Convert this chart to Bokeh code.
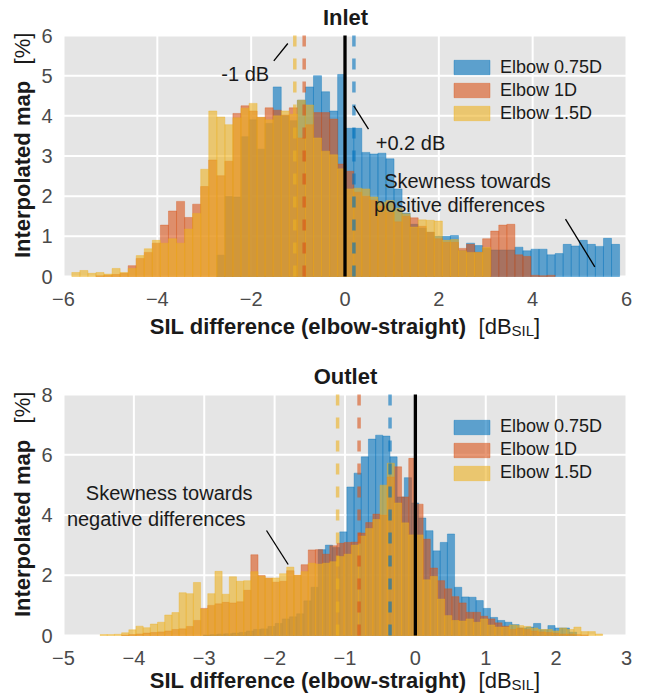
import numpy as np
from math import pi
from bokeh.plotting import figure
from bokeh.layouts import column
from bokeh.models import (Label, Legend, LegendItem, FixedTicker, Range1d,
                          ColumnDataSource, LinearAxis)
from bokeh.embed import file_html
from bokeh.resources import INLINE

series_names = ["Elbow 0.75D", "Elbow 1D", "Elbow 1.5D"]
colors = ["#0072BD", "#D95319", "#EDB120"]

# ---------------- Inlet (common bins) ----------------
inlet_bin_start = -5.823
inlet_bin_width = 0.1717
inlet_blue = [0, 0, 0, 0, 0, 0, 0, 0, 0, 0,
              0, 0, 0, 0, 0, 0, 0, 0, 0.53, 1.99,
              1.98, 3.48, 3.90, 3.17, 3.81, 4.72, 4.00, 3.88, 4.39, 4.72,
              5.00, 4.60, 4.12, 5.03, 3.69, 3.69, 3.09, 3.05, 3.07, 2.93,
              2.18, 1.58, 1.30, 1.20, 1.10, 1.00, 1.00, 1.02, 0.64, 0.83,
              0.77, 0.70, 0.66, 0.66, 0.66, 0.73, 0.64, 0.68, 0.68, 0.54,
              0.57, 0.80, 0.76, 0.90, 0.80, 0.75, 0.95, 0.80]
inlet_orange = [0, 0, 0, 0.02, 0.03, 0.05, 0.08, 0.27, 0.45, 0.60,
                0.83, 1.28, 1.63, 1.87, 1.47, 1.80, 2.24, 2.90, 2.51, 2.87,
                4.06, 4.25, 4.12, 3.96, 4.20, 4.14, 4.02, 4.20, 3.45, 3.78,
                4.08, 4.08, 3.92, 2.80, 2.62, 2.10, 2.00, 1.90, 1.75, 1.60,
                1.36, 1.50, 1.46, 1.25, 1.10, 0.94, 0.85, 0.85, 0.70, 0.80,
                0.60, 0.94, 1.13, 1.28, 1.30, 0.54, 0.50, 0.03, 0.02, 0.03,
                0, 0, 0, 0, 0, 0, 0, 0]
inlet_yellow = [0.10, 0.15, 0.08, 0.10, 0.06, 0.20, 0.10, 0.20, 0.52, 0.69,
                0.90, 0.83, 0.94, 0.83, 1.18, 1.57, 2.67, 4.12, 3.97, 3.78,
                3.95, 4.19, 4.31, 3.96, 3.90, 4.00, 4.12, 4.04, 4.39, 4.27,
                3.45, 3.12, 3.03, 2.68, 2.18, 2.20, 2.18, 1.98, 1.85, 1.89,
                1.70, 1.56, 1.23, 1.41, 1.40, 1.38, 0.90, 0.92, 0.64, 0.60,
                0.60, 0.72, 0, 0, 0, 0, 0, 0, 0, 0,
                0, 0, 0, 0, 0, 0, 0, 0]
inlet_means = [0.19, -0.87, -1.07]

# ---------------- Outlet (own bins per series) ----------------
outlet_bin_width = 0.102
outlet_starts = [-3.013, -4.48, -4.48]
outlet_blue = [0.02, 0.03, 0.05, 0.06, 0.08, 0.10, 0.15, 0.20, 0.22, 0.30,
               0.40, 0.55, 0.62, 0.72, 1.15, 1.60, 2.85, 3.00, 2.92, 3.44,
               4.93, 5.39, 5.93, 6.52, 6.65, 6.62, 5.93, 4.60, 5.24, 4.40,
               3.90, 3.48, 2.81, 3.09, 3.37, 1.60, 1.28, 1.27, 1.16, 0.90,
               0.60, 0.50, 0.44, 0.36, 0.25, 0.28, 0.40, 0.19, 0.33, 0.25,
               0.25, 0.11]
outlet_orange = [0, 0, 0, 0.02, 0.03, 0.05, 0.08, 0.10, 0.12, 0.15,
                 0.20, 0.22, 0.30, 0.50, 0.90, 1.00, 1.05, 1.10, 1.08, 1.12,
                 1.50, 2.68, 1.99, 1.90, 1.77, 1.80, 2.15, 2.00, 2.35, 2.84,
                 2.85, 2.70, 2.98, 3.06, 3.09, 3.10, 3.40, 3.75, 4.03, 4.00,
                 5.26, 5.60, 4.60, 5.88, 4.36, 3.20, 2.24, 1.82, 1.55, 1.29,
                 1.08, 0.77, 0.77, 0.64, 0.55, 0.42, 0.31, 0.20, 0.25, 0.20,
                 0.15, 0.12, 0.10, 0.08, 0.05, 0.05, 0.03, 0.02, 0, 0]
outlet_yellow = [0.03, 0.03, 0.04, 0.09, 0.19, 0.31, 0.26, 0.38, 0.44, 0.68,
                 0.76, 1.42, 1.39, 1.76, 0.88, 1.39, 2.13, 1.37, 1.95, 1.80,
                 1.82, 2.12, 1.97, 1.90, 1.91, 2.05, 2.27, 2.00, 2.12, 2.40,
                 2.37, 2.40, 2.45, 2.62, 2.70, 3.00, 3.30, 3.55, 3.85, 4.99,
                 5.72, 4.40, 3.74, 3.34, 3.34, 1.85, 1.96, 1.21, 0.66, 0.50,
                 0.48, 0.55, 0.44, 0.55, 0.35, 0.28, 0.28, 0.35, 0.33, 0.30,
                 0.25, 0.20, 0.20, 0.15, 0.25, 0.20, 0.28, 0.13, 0.13, 0.05]
outlet_means = [-0.36, -0.80, -1.105]

inlet_xticks = [-6, -4, -2, 0, 2, 4, 6]
inlet_yticks = [0, 1, 2, 3, 4, 5, 6]
outlet_xticks = [-5, -4, -3, -2, -1, 0, 1, 2, 3]
outlet_yticks = [0, 2, 4, 6, 8]

FONT = "Liberation Sans"
W = 645
FL, FR = 63, 626  # plot-area left/right in canvas pixels


def make_panel(title, xr, yr, xticks, yticks, starts, width, series, means,
               height, ftop, fbot, legend_top, xlab_off, notes, pointer):
    ppx = (FR - FL) / (xr[1] - xr[0])
    ppy = (fbot - ftop) / (yr[1] - yr[0])
    xs = xr[0] - FL / ppx
    xe = xr[1] + (W - FR) / ppx
    ys = yr[0] - (height - fbot) / ppy
    ye = yr[1] + ftop / ppy

    p = figure(width=W, height=height, x_range=Range1d(xs, xe), y_range=Range1d(ys, ye),
               output_backend="svg", toolbar_location=None,
               x_axis_location=None, y_axis_location=None,
               min_border_left=0, min_border_right=0, min_border_top=0, min_border_bottom=0)
    p.background_fill_color = "white"
    p.border_fill_color = "white"
    p.outline_line_color = None
    p.grid.visible = False

    def to_data(px, py):
        return xr[0] + (px - FL) / ppx, yr[0] + (fbot - py) / ppy

    # plot area and grid
    p.quad(left=[xr[0]], right=[xr[1]], bottom=[yr[0]], top=[yr[1]],
           fill_color="#e5e5e5", line_color=None)
    p.segment(x0=xticks, y0=[yr[0]] * len(xticks), x1=xticks, y1=[yr[1]] * len(xticks),
              line_color="white", line_width=2)
    p.segment(x0=[xr[0]] * len(yticks), y0=yticks, x1=[xr[1]] * len(yticks), y1=yticks,
              line_color="white", line_width=2)

    xa = LinearAxis(fixed_location=yr[0], ticker=FixedTicker(ticks=xticks))
    ya = LinearAxis(fixed_location=xr[0], ticker=FixedTicker(ticks=yticks))
    for ax in (xa, ya):
        ax.axis_line_color = None
        ax.major_tick_line_color = None
        ax.minor_tick_line_color = None
        ax.major_label_text_font = FONT
        ax.major_label_text_font_size = "20px"
        ax.major_label_text_color = "#4a4a4a"
    xa.major_label_standoff = 9
    ya.major_label_standoff = 5
    p.add_layout(xa, "below")
    p.add_layout(ya, "left")

    items = []
    for name, col, start, vals in zip(series_names, colors, starts, series):
        vals = np.asarray(vals, dtype=float)
        left = start + width * np.arange(len(vals))
        m = vals > 0
        src = ColumnDataSource(dict(left=left[m], right=left[m] + width, top=vals[m]))
        r = p.quad(left="left", right="right", bottom=0, top="top", source=src,
                   fill_color=col, fill_alpha=0.6, line_color=col,
                   line_alpha=0.45, line_width=0.8)
        items.append(LegendItem(label=name, renderers=[r]))

    for mval, col in zip(means, colors):
        p.line([mval, mval], [yr[0], yr[1]], line_color=col, line_alpha=0.6,
               line_width=3.5, line_dash="11 12")
    p.line([0, 0], [yr[0], yr[1]], line_color="black", line_width=3.3)

    leg = Legend(items=items, location=(FL + 386, height - legend_top - 67))
    leg.background_fill_alpha = 0
    leg.border_line_color = None
    leg.padding = 0
    leg.margin = 0
    leg.spacing = 2
    leg.glyph_width = 45
    leg.glyph_height = 18
    leg.label_height = 21
    leg.label_standoff = 6
    leg.label_text_font = FONT
    leg.label_text_font_size = "18px"
    leg.label_text_color = "#1a1a1a"
    p.add_layout(leg)

    def lab(text, px, py, size, style="normal", align="center", baseline="middle", angle=0):
        x, y = to_data(px, py)
        p.add_layout(Label(x=x, y=y, text=text, text_font=FONT, text_font_size=size,
                           text_font_style=style, text_align=align,
                           text_baseline=baseline, angle=angle, text_color="#1a1a1a"))

    # title
    lab(title, 345, ftop - 18, "22px", "bold")
    # y label
    yc = (ftop + fbot) / 2
    lab("Interpolated map", 22, yc + 13.5, "22px", "bold", angle=pi / 2)
    lab("[%]", 22, yc - 107.5, "22px", angle=pi / 2)
    # x label
    bl = fbot + xlab_off
    lab("SIL difference (elbow-straight)", 149.3, bl, "22px", "bold", "left", "alphabetic")
    lab("[dB", 478.1, bl, "22px", "normal", "left", "alphabetic")
    lab("SIL", 511.1, bl + 4, "15px", "normal", "left", "alphabetic")
    lab("]", 533.6, bl, "22px", "normal", "left", "alphabetic")

    for text, px, py in notes:
        lab(text, px, py, "20px")
    for (x0, y0, x1, y1) in pointer:
        a = to_data(x0, y0)
        b = to_data(x1, y1)
        p.line([a[0], b[0]], [a[1], b[1]], line_color="black", line_width=1.3)
    return p


top_notes = [("-1 dB", 244.7, 73.3), ("+0.2 dB", 410, 142.5),
             ("Skewness towards", 467, 180.5), ("positive differences", 459, 204)]
top_pointers = [(273.3, 60.3, 287.3, 43), (353.3, 105.3, 368, 128.7),
                (565, 218.7, 594.3, 266.3)]
p1 = make_panel("Inlet", (-6, 6), (0, 6), inlet_xticks, inlet_yticks,
                [inlet_bin_start] * 3, inlet_bin_width,
                [inlet_blue, inlet_orange, inlet_yellow], inlet_means,
                350, 35, 276, 56.5, 50, top_notes, top_pointers)

bot_notes = [("Skewness towards", 168.7, 142.5), ("negative differences", 155.7, 168)]
bot_pointers = [(266, 180, 287.7, 214)]
p2 = make_panel("Outlet", (-5, 3), (0, 8), outlet_xticks, outlet_yticks,
                outlet_starts, outlet_bin_width,
                [outlet_blue, outlet_orange, outlet_yellow], outlet_means,
                347, 44, 285, 66.2, 45, bot_notes, bot_pointers)

layout = column(p1, p2, spacing=0)
open("out.html", "w").write(file_html(layout, INLINE))
